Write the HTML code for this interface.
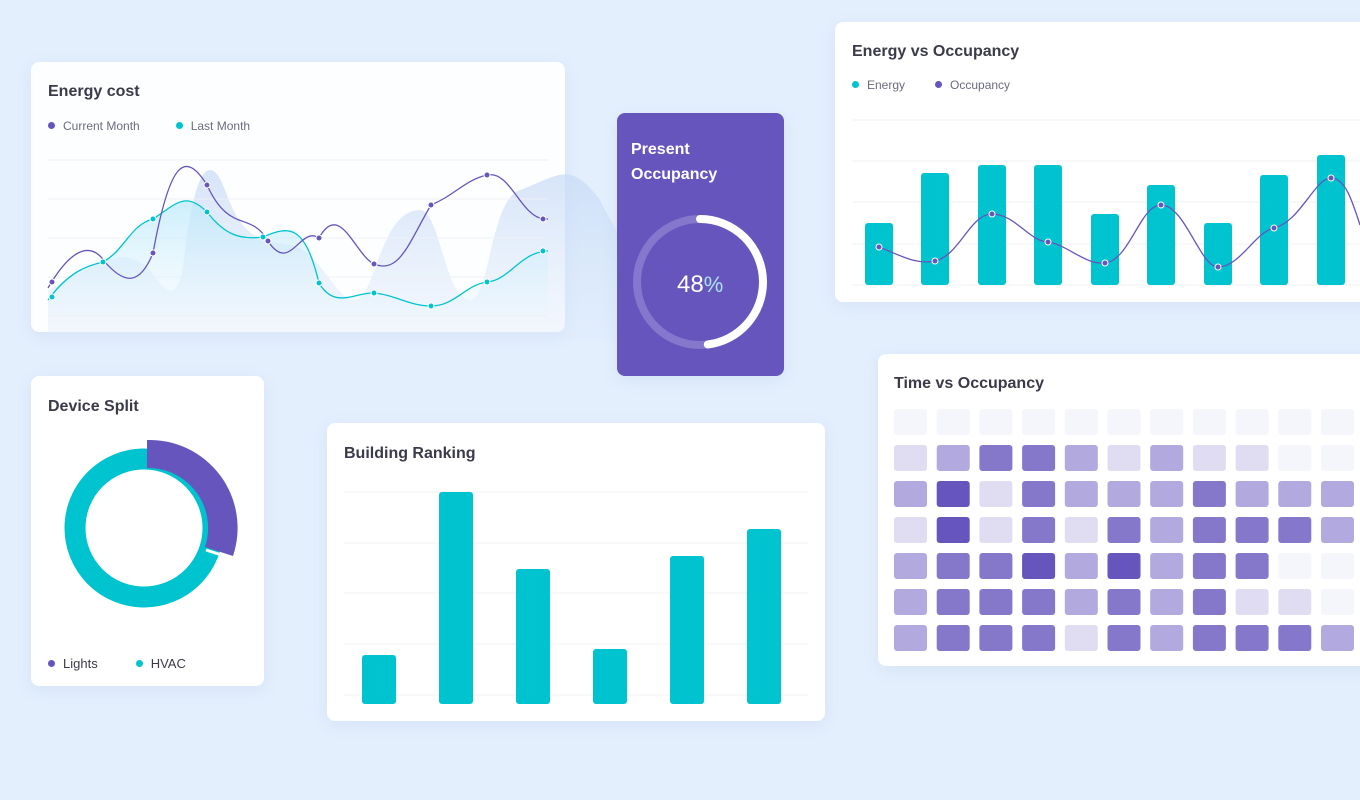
<!DOCTYPE html>
<html><head><style>
body{margin:0;width:1360px;height:800px;background:#e3effd;font-family:"Liberation Sans",sans-serif;overflow:hidden;position:relative}
.card{position:absolute;background:#fff;border-radius:8px;box-shadow:0 4px 16px rgba(120,150,200,.12)}
.t{position:absolute;font-size:16px;color:#3a3a4a;font-weight:bold}
.lg{position:absolute;font-size:12px;color:#6b6b80}
.dot{display:inline-block;width:7px;height:7px;border-radius:50%;margin-right:8px;vertical-align:1px}
svg{position:absolute;left:0;top:0}
</style></head><body>
<div class="card" style="left:31px;top:62px;width:534px;height:270px;background:rgba(255,255,255,.9)"></div>
<svg width="1360" height="800" style="z-index:1">
<defs><linearGradient id="bg" x1="0" y1="0" x2="0" y2="1"><stop offset="0" stop-color="#c4d8f5" stop-opacity=".9"/><stop offset="1" stop-color="#dce9fb" stop-opacity=".4"/></linearGradient></defs>
<path d="M48,316 L48,290 C90,270 120,240 150,270 C170,300 180,300 185,250 C195,170 210,150 225,190 C240,230 250,240 290,245 C320,250 335,300 355,300 C375,300 380,210 420,210 C440,210 445,300 470,300 C490,300 490,200 520,190 C560,175 570,160 600,200 C620,240 630,250 640,260 L640,340 L48,340 Z" fill="url(#bg)" opacity=".75"/>
</svg>
<div class="t" style="left:48px;top:83px">Energy cost</div>
<div class="lg" style="left:48px;top:119px"><span class="dot" style="background:#6655bd"></span>Current Month<span style="display:inline-block;width:36px"></span><span class="dot" style="background:#00c3d0"></span>Last Month</div>
<svg width="1360" height="800" style="z-index:2">
<defs><linearGradient id="cf" x1="0" y1="0" x2="0" y2="1"><stop offset="0" stop-color="#b8e8fb" stop-opacity=".7"/><stop offset="1" stop-color="#eaf6fd" stop-opacity=".3"/></linearGradient></defs>
<g stroke="#eef0f4"><line x1="48" y1="160" x2="548" y2="160"/><line x1="48" y1="199" x2="548" y2="199"/><line x1="48" y1="238" x2="548" y2="238"/><line x1="48" y1="277" x2="548" y2="277"/><line x1="48" y1="316" x2="548" y2="316"/></g>
<path d="M48,300 C70,270 90,265 103,262 C125,250 130,225 153,219 C175,205 185,190 207,212 C225,235 240,240 263,237 C290,225 305,225 319,283 C335,310 355,292 374,293 C395,295 410,306 431,306 C455,306 465,285 487,282 C510,280 520,252 548,251 L548,316 L48,316 Z" fill="url(#cf)"/>
<path d="M48,300 C70,270 90,265 103,262 C125,250 130,225 153,219 C175,205 185,190 207,212 C225,235 240,240 263,237 C290,225 305,225 319,283 C335,310 355,292 374,293 C395,295 410,306 431,306 C455,306 465,285 487,282 C510,280 520,252 548,251" fill="none" stroke="#00c3d0" stroke-width="1.3"/>
<path d="M48,288 C70,250 90,240 105,262 C125,285 140,285 153,253 C170,160 185,150 207,185 C230,235 250,210 268,241 C290,275 300,225 319,238 C340,200 355,255 374,264 C400,275 410,240 431,205 C455,195 465,180 487,175 C510,170 520,215 543,219 L548,219" fill="none" stroke="#6655bd" stroke-width="1.3"/>
<g fill="#6655bd" stroke="#fff" stroke-width="1"><circle cx="52" cy="282" r="3"/><circle cx="153" cy="253" r="3"/><circle cx="207" cy="185" r="3"/><circle cx="268" cy="241" r="3"/><circle cx="319" cy="238" r="3"/><circle cx="374" cy="264" r="3"/><circle cx="431" cy="205" r="3"/><circle cx="487" cy="175" r="3"/><circle cx="543" cy="219" r="3"/></g>
<g fill="#00c3d0" stroke="#fff" stroke-width="1"><circle cx="52" cy="297" r="3"/><circle cx="103" cy="262" r="3"/><circle cx="153" cy="219" r="3"/><circle cx="207" cy="212" r="3"/><circle cx="263" cy="237" r="3"/><circle cx="319" cy="283" r="3"/><circle cx="374" cy="293" r="3"/><circle cx="431" cy="306" r="3"/><circle cx="487" cy="282" r="3"/><circle cx="543" cy="251" r="3"/></g>
</svg>

<div class="card" style="left:617px;top:113px;width:167px;height:263px;background:#6655bd;z-index:3"></div>
<div style="position:absolute;left:631px;top:137px;color:#fff;font-size:16px;line-height:25px;font-weight:bold;z-index:4">Present<br>Occupancy</div>
<svg width="1360" height="800" style="z-index:4">
<circle cx="700" cy="282" r="63" fill="none" stroke="#8577cc" stroke-width="8"/>
<circle cx="700" cy="282" r="63" fill="none" stroke="#fff" stroke-width="8" stroke-dasharray="190 400" transform="rotate(-90 700 282)" stroke-linecap="round"/>
<text x="677" y="292" fill="#fff" font-size="24" font-family="Liberation Sans">48<tspan fill="#a9e4ee" font-size="22">%</tspan></text>
</svg>

<div class="card" style="left:835px;top:22px;width:540px;height:280px"></div>
<div class="t" style="left:852px;top:43px">Energy vs Occupancy</div>
<div class="lg" style="left:852px;top:78px"><span class="dot" style="background:#00c3d0"></span>Energy<span style="display:inline-block;width:30px"></span><span class="dot" style="background:#6655bd"></span>Occupancy</div>
<svg width="1360" height="800" style="z-index:2">
<g stroke="#eef0f4"><line x1="852" y1="120" x2="1360" y2="120"/><line x1="852" y1="161" x2="1360" y2="161"/><line x1="852" y1="202" x2="1360" y2="202"/><line x1="852" y1="244" x2="1360" y2="244"/><line x1="852" y1="285" x2="1360" y2="285"/></g>
<g fill="#00c3d0"><rect x="865" y="223" width="28" height="62" rx="3"/><rect x="921" y="173" width="28" height="112" rx="3"/><rect x="978" y="165" width="28" height="120" rx="3"/><rect x="1034" y="165" width="28" height="120" rx="3"/><rect x="1091" y="214" width="28" height="71" rx="3"/><rect x="1147" y="185" width="28" height="100" rx="3"/><rect x="1204" y="223" width="28" height="62" rx="3"/><rect x="1260" y="175" width="28" height="110" rx="3"/><rect x="1317" y="155" width="28" height="130" rx="3"/></g>
<path d="M879,247 C900,255 915,265 935,261 C960,255 970,214 992,214 C1015,214 1030,242 1048,242 C1068,245 1085,265 1105,263 C1130,260 1140,205 1161,205 C1185,205 1200,267 1218,267 C1240,267 1255,232 1274,228 C1300,222 1315,178 1331,178 C1345,178 1352,200 1360,225" fill="none" stroke="#6655bd" stroke-width="1.3"/>
<g fill="#6655bd" stroke="#fff" stroke-width="1"><circle cx="879" cy="247" r="3"/><circle cx="935" cy="261" r="3"/><circle cx="992" cy="214" r="3"/><circle cx="1048" cy="242" r="3"/><circle cx="1105" cy="263" r="3"/><circle cx="1161" cy="205" r="3"/><circle cx="1218" cy="267" r="3"/><circle cx="1274" cy="228" r="3"/><circle cx="1331" cy="178" r="3"/></g>
</svg>

<div class="card" style="left:31px;top:376px;width:233px;height:310px"></div>
<div class="t" style="left:48px;top:398px">Device Split</div>
<svg width="1360" height="800" style="z-index:2">
<circle cx="144" cy="528" r="69" fill="none" stroke="#00c3d0" stroke-width="21"/>
<path d="M147,440 A88,88 0 0 1 233,556 L205,547 A60,60 0 0 0 147,468 Z" fill="#6655bd"/>
<line x1="206" y1="550" x2="234" y2="559" stroke="#fff" stroke-width="3"/>
</svg>
<div class="lg" style="left:48px;top:656px;font-size:13px;color:#3a3a4a"><span class="dot" style="background:#6655bd"></span>Lights<span style="display:inline-block;width:38px"></span><span class="dot" style="background:#00c3d0"></span>HVAC</div>

<div class="card" style="left:327px;top:423px;width:498px;height:298px"></div>
<div class="t" style="left:344px;top:445px">Building Ranking</div>
<svg width="1360" height="800" style="z-index:2">
<g stroke="#eef0f4"><line x1="344" y1="492" x2="808" y2="492"/><line x1="344" y1="543" x2="808" y2="543"/><line x1="344" y1="593" x2="808" y2="593"/><line x1="344" y1="644" x2="808" y2="644"/><line x1="344" y1="695" x2="808" y2="695"/></g>
<g fill="#00c3d0"><rect x="362" y="655" width="34" height="49" rx="3"/><rect x="439" y="492" width="34" height="212" rx="3"/><rect x="516" y="569" width="34" height="135" rx="3"/><rect x="593" y="649" width="34" height="55" rx="3"/><rect x="670" y="556" width="34" height="148" rx="3"/><rect x="747" y="529" width="34" height="175" rx="3"/></g>
</svg>

<div class="card" style="left:878px;top:354px;width:500px;height:312px"></div>
<div class="t" style="left:894px;top:375px">Time vs Occupancy</div>
<svg id="hm" width="1360" height="800" style="z-index:2"></svg>
<script>
var c=["#f5f6fb","#e0ddf2","#b2a9de","#8578cb","#6655bd"];
var d=["00000000000","12332121100","24132223222","14131323332","23342423300","23332323110","23331323332"];
var s="";for(var r=0;r<7;r++)for(var i=0;i<11;i++)s+='<rect x="'+(894+i*42.7)+'" y="'+(409+r*36)+'" width="33" height="26" rx="3" fill="'+c[+d[r][i]]+'"/>';
document.getElementById("hm").innerHTML=s;
</script>
</body></html>
